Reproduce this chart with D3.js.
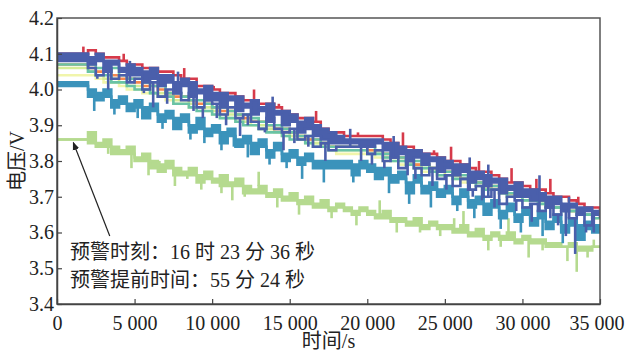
<!DOCTYPE html>
<html>
<head>
<meta charset="utf-8">
<script src="https://cdn.jsdelivr.net/npm/d3@7"></script>
<style>
  body { margin: 0; background: #fff; }
  text { font-family: "Liberation Serif", "Noto Sans CJK SC", serif; fill: #222; }
</style>
</head>
<body>
<svg id="chart" width="625" height="352"></svg>
<script>
// sample grid, one reading every 500 s
const times = d3.range(0, 35001, 500);

const xTicks = [0, 5000, 10000, 15000, 20000, 25000, 30000, 35000];
const yTicks = [3.4, 3.5, 3.6, 3.7, 3.8, 3.9, 4.0, 4.1, 4.2];

// cell voltages (V)
const redCell = [4.10,4.10,4.10,4.10,4.11,4.10,4.09,4.09,4.08,4.07,
  4.07,4.06,4.06,4.05,4.05,4.04,4.03,4.03,4.01,4.01,
  4.00,3.99,3.99,3.98,3.97,3.97,3.96,3.96,3.95,3.94,
  3.93,3.92,3.92,3.91,3.89,3.88,3.88,3.87,3.87,3.87,
  3.87,3.87,3.86,3.85,3.84,3.84,3.83,3.82,3.82,3.81,
  3.80,3.80,3.79,3.78,3.77,3.77,3.76,3.75,3.74,3.74,
  3.73,3.72,3.72,3.71,3.70,3.70,3.69,3.68,3.67,3.67,3.66];
const blueA = [4.10,4.10,4.10,4.10,4.09,4.10,4.08,4.08,4.06,4.07,
  4.06,4.05,4.06,4.04,4.04,4.02,4.03,4.02,4.00,4.01,
  3.99,3.99,3.98,3.98,3.96,3.97,3.95,3.96,3.94,3.94,
  3.93,3.91,3.92,3.90,3.89,3.88,3.87,3.86,3.86,3.86,
  3.86,3.86,3.85,3.85,3.84,3.83,3.83,3.82,3.81,3.81,
  3.80,3.79,3.79,3.77,3.77,3.76,3.75,3.75,3.73,3.74,
  3.72,3.72,3.71,3.70,3.70,3.68,3.68,3.67,3.67,3.66,3.66];
const blueB = [4.08,4.08,4.08,4.08,4.07,4.08,4.05,4.07,4.05,4.04,
  4.04,4.02,4.03,4.01,4.02,3.99,4.01,3.98,3.99,3.97,
  3.97,3.95,3.97,3.94,3.95,3.93,3.94,3.91,3.93,3.90,
  3.91,3.88,3.89,3.87,3.86,3.85,3.85,3.85,3.85,3.84,
  3.84,3.85,3.83,3.81,3.82,3.80,3.81,3.79,3.80,3.77,
  3.78,3.76,3.77,3.74,3.75,3.73,3.74,3.71,3.72,3.70,
  3.70,3.69,3.69,3.67,3.68,3.66,3.67,3.65,3.66,3.65,3.65];
const blueC = [4.10,4.10,4.10,4.10,4.06,4.04,4.06,4.03,4.04,4.02,
  4.03,4.00,4.02,3.98,4.00,3.99,3.97,3.99,3.95,3.97,
  3.96,3.93,3.95,3.92,3.93,3.91,3.89,3.92,3.89,3.88,
  3.89,3.86,3.87,3.84,3.85,3.83,3.84,3.84,3.84,3.84,
  3.82,3.83,3.80,3.81,3.78,3.80,3.78,3.76,3.78,3.75,
  3.76,3.73,3.75,3.72,3.73,3.70,3.72,3.68,3.70,3.69,
  3.67,3.68,3.66,3.67,3.65,3.66,3.64,3.65,3.62,3.65,3.64];
const mintCell = [4.09,4.09,4.09,4.09,4.07,4.06,4.05,4.06,4.04,4.03,
  4.03,4.02,4.01,4.01,3.99,3.99,3.98,3.97,3.97,3.96,
  3.95,3.95,3.94,3.93,3.93,3.92,3.91,3.90,3.90,3.89,
  3.88,3.87,3.87,3.86,3.85,3.84,3.84,3.84,3.84,3.84,
  3.84,3.83,3.82,3.82,3.81,3.80,3.80,3.79,3.78,3.78,
  3.77,3.76,3.76,3.75,3.74,3.73,3.73,3.72,3.71,3.71,
  3.70,3.69,3.69,3.68,3.67,3.67,3.66,3.66,3.65,3.65,3.65];
const mintCell2 = [4.07,4.07,4.07,4.07,4.05,4.04,4.04,4.02,4.02,4.01,
  4.00,4.00,3.99,3.98,3.98,3.96,3.96,3.95,3.94,3.94,
  3.93,3.92,3.92,3.91,3.90,3.90,3.89,3.88,3.88,3.87,
  3.86,3.86,3.85,3.84,3.84,3.83,3.83,3.83,3.83,3.83,
  3.82,3.82,3.81,3.80,3.80,3.79,3.78,3.78,3.77,3.76,
  3.76,3.75,3.75,3.74,3.73,3.72,3.72,3.71,3.70,3.70,
  3.69,3.69,3.68,3.67,3.67,3.66,3.66,3.65,3.65,3.64,3.64];
const orangeCell = [4.07,4.07,4.07,4.07,4.06,4.05,4.05,4.04,4.03,4.03,
  4.02,4.01,4.01,4.00,3.99,3.98,3.98,3.97,3.96,3.96,
  3.95,3.94,3.94,3.93,3.92,3.91,3.91,3.90,3.89,3.89,
  3.88,3.87,3.86,3.86,3.85,3.84,3.84,3.84,3.84,3.84,
  3.83,3.83,3.82,3.81,3.81,3.80,3.79,3.79,3.78,3.77,
  3.77,3.76,3.75,3.75,3.74,3.73,3.73,3.72,3.71,3.71,
  3.70,3.69,3.69,3.68,3.67,3.67,3.66,3.66,3.65,3.65,3.65];
const limeCell = [4.06,4.06,4.06,4.06,4.05,4.04,4.03,4.03,4.02,4.01,
  4.01,4.00,3.99,3.99,3.98,3.97,3.97,3.96,3.95,3.95,
  3.94,3.93,3.93,3.92,3.91,3.91,3.90,3.89,3.89,3.88,
  3.87,3.87,3.86,3.85,3.85,3.84,3.83,3.83,3.83,3.83,
  3.83,3.82,3.81,3.81,3.80,3.80,3.79,3.78,3.78,3.77,
  3.76,3.76,3.75,3.74,3.74,3.73,3.72,3.72,3.71,3.70,
  3.70,3.69,3.69,3.68,3.67,3.67,3.66,3.66,3.65,3.65,3.65];
const yellowCell = [4.04,4.04,4.04,4.04,4.04,4.03,4.02,4.02,4.01,4.00,
  4.00,3.99,3.99,3.98,3.97,3.96,3.96,3.95,3.95,3.94,
  3.93,3.93,3.92,3.91,3.91,3.90,3.89,3.89,3.88,3.87,
  3.87,3.86,3.85,3.85,3.84,3.83,3.82,3.82,3.82,3.82,
  3.82,3.81,3.80,3.80,3.79,3.79,3.78,3.77,3.77,3.76,
  3.76,3.75,3.74,3.74,3.73,3.72,3.72,3.71,3.70,3.70,
  3.69,3.69,3.68,3.67,3.67,3.66,3.66,3.65,3.65,3.64,3.64];
const tealA = [4.02,4.02,4.02,4.02,4.00,3.99,4.00,3.97,3.98,3.96,
  3.97,3.95,3.96,3.93,3.94,3.92,3.93,3.90,3.92,3.89,
  3.90,3.88,3.89,3.86,3.87,3.85,3.86,3.83,3.85,3.82,
  3.83,3.81,3.82,3.80,3.80,3.80,3.80,3.80,3.79,3.80,
  3.79,3.78,3.78,3.76,3.77,3.74,3.76,3.73,3.74,3.72,
  3.73,3.70,3.72,3.69,3.70,3.68,3.69,3.66,3.68,3.65,
  3.67,3.64,3.66,3.63,3.65,3.62,3.64,3.62,3.63,3.62,3.62];
const tealB = [4.01,4.01,4.01,4.01,3.98,3.97,3.98,3.95,3.96,3.94,
  3.95,3.92,3.94,3.91,3.92,3.89,3.91,3.88,3.89,3.87,
  3.88,3.85,3.87,3.84,3.85,3.82,3.84,3.81,3.83,3.80,
  3.81,3.79,3.80,3.78,3.78,3.78,3.78,3.78,3.76,3.78,
  3.77,3.75,3.76,3.74,3.75,3.71,3.74,3.71,3.72,3.70,
  3.71,3.68,3.70,3.67,3.68,3.65,3.67,3.64,3.66,3.63,
  3.65,3.62,3.64,3.61,3.63,3.60,3.62,3.58,3.61,3.60,3.60];
const faultCell = [3.86,3.86,3.86,3.86,3.88,3.85,3.86,3.84,3.83,3.84,
  3.81,3.82,3.80,3.79,3.80,3.78,3.77,3.78,3.76,3.77,
  3.75,3.76,3.74,3.75,3.73,3.72,3.73,3.71,3.72,3.70,
  3.71,3.69,3.70,3.68,3.69,3.67,3.68,3.67,3.66,3.67,
  3.66,3.65,3.66,3.64,3.64,3.63,3.64,3.62,3.63,3.62,
  3.62,3.61,3.62,3.60,3.61,3.59,3.60,3.59,3.60,3.58,
  3.59,3.58,3.58,3.57,3.57,3.56,3.57,3.56,3.56,3.56,3.56];
// lower edge of the fault cell's ripple
const faultLow = [3.86,3.86,3.86,3.86,3.85,3.84,3.84,3.82,3.82,3.82,
  3.80,3.80,3.78,3.77,3.78,3.76,3.76,3.76,3.74,3.75,
  3.74,3.73,3.73,3.73,3.71,3.71,3.71,3.70,3.70,3.69,
  3.69,3.68,3.68,3.67,3.67,3.66,3.67,3.66,3.65,3.66,
  3.65,3.64,3.64,3.63,3.63,3.62,3.62,3.61,3.62,3.61,
  3.61,3.60,3.60,3.59,3.59,3.58,3.59,3.58,3.58,3.57,
  3.58,3.57,3.57,3.56,3.56,3.56,3.56,3.55,3.55,3.56,3.56];

// short one-sample excursions [time s, voltage V]
const redSpikes = [[1700,4.12],[2900,4.10],[4300,4.10],[6700,4.05],[8200,4.06],[10100,4.01],[12700,4.00],
  [14300,3.96],[16700,3.94],[19400,3.88],[22300,3.88],[24300,3.83],[25400,3.84],[27200,3.80],
  [29300,3.78],[30900,3.75],[31800,3.75],[33600,3.70]];
const blueSpikes = [[2600,4.03],[3300,4.00],[4700,4.08],[5600,3.99],[6200,3.95],[7100,3.96],[7800,4.05],
  [8800,3.94],[9400,3.92],[10300,3.92],[10900,3.90],[11800,3.87],[12300,3.90],[13400,3.88],[13900,3.98],
  [14600,3.83],[15300,3.85],[16200,3.84],[17300,3.80],[18900,3.89],[19600,3.80],[20300,3.79],
  [21100,3.78],[21700,3.87],[22600,3.76],[23100,3.75],[24200,3.73],[25100,3.72],[26600,3.81],
  [26800,3.70],[27400,3.69],[27800,3.79],[28200,3.67],[29600,3.66],[30600,3.63],[31100,3.76],
  [31800,3.64],[32300,3.62],[32800,3.59],[33000,3.70],[33400,3.54],[34100,3.60],[34600,3.60]];
const tealSpikes = [[2400,3.94],[3700,3.93],[5200,3.92],[6800,3.89],[8600,3.86],[9500,3.85],[10600,3.83],
  [11400,3.84],[12300,3.81],[13700,3.79],[14800,3.78],[15800,3.75],[17200,3.74],[19100,3.74],
  [21400,3.71],[22700,3.68],[24100,3.67],[25800,3.66],[26900,3.64],[28600,3.61],[29900,3.60],
  [31300,3.59],[32600,3.57],[33700,3.58]];
const faultSpikes = [[2200,3.88],[3300,3.82],[4800,3.78],[5900,3.76],[6600,3.80],[7600,3.73],[8400,3.75],
  [9300,3.72],[10600,3.71],[11300,3.69],[12100,3.70],[13000,3.77],[14200,3.67],[15600,3.65],
  [16400,3.70],[17700,3.64],[19300,3.62],[20800,3.69],[21900,3.60],[23400,3.60],[24700,3.59],
  [25600,3.64],[26200,3.66],[27800,3.55],[28600,3.56],[29100,3.64],[30400,3.53],[31300,3.55],
  [32900,3.52],[33500,3.49],[34200,3.53],[34600,3.58]];

const margin = {top: 18, right: 25, bottom: 48, left: 57};
const width = 625 - margin.left - margin.right;
const height = 352 - margin.top - margin.bottom;

const svg = d3.select("#chart");
const g = svg.append("g").attr("transform", "translate(" + margin.left + "," + margin.top + ")");

const x = d3.scaleLinear().domain([0, 35000]).range([0, width]);
const y = d3.scaleLinear().domain([3.4, 4.2]).range([height, 0]);

g.append("clipPath").attr("id", "clip")
  .append("rect").attr("width", width).attr("height", height);

const line = d3.line()
  .x((d, i) => x(times[i]))
  .y(d => y(d))
  .curve(d3.curveStepAfter);

// band between two readings of the same colour group
function band(lo, hi) {
  return d3.area()
    .x((d, i) => x(times[i]))
    .y0((d, i) => y(lo[i]))
    .y1((d, i) => y(hi[i]))
    .curve(d3.curveStepAfter)(times);
}

const plot = g.append("g").attr("clip-path", "url(#clip)");
const lw = 2.6;

function drawLine(vals, color) {
  plot.append("path").attr("d", line(vals))
    .attr("fill", "none").attr("stroke", color).attr("stroke-width", lw);
}
function drawBand(lo, hi, color) {
  plot.append("path").attr("d", band(lo, hi))
    .attr("fill", color).attr("stroke", "none");
  drawLine(lo, color);
  drawLine(hi, color);
}
function drawSpikes(vals, spikes, color) {
  plot.selectAll(null)
    .data(spikes)
    .enter().append("line")
    .attr("x1", d => x(d[0])).attr("x2", d => x(d[0]))
    .attr("y1", d => y(vals[Math.floor(d[0] / 500)]))
    .attr("y2", d => y(d[1]))
    .attr("stroke", color)
    .attr("stroke-width", lw);
}

// fault cell
drawBand(faultLow, faultCell, "#b5da8f");
drawSpikes(faultCell, faultSpikes, "#b5da8f");

// lower teal group
drawBand(tealB, tealA, "#3b93bb");
drawSpikes(tealB, tealSpikes, "#3b93bb");

drawLine(yellowCell, "#f1f5ab");
drawLine(limeCell, "#d5ec97");
drawLine(orangeCell, "#f6884f");
drawLine(mintCell2, "#69c3a5");
drawLine(mintCell, "#69c3a5");

drawLine(redCell, "#d63a4a");
drawSpikes(redCell, redSpikes, "#d63a4a");

// upper blue group
drawBand(blueB, blueA, "#4a5fab");
drawLine(blueC, "#4a5fab");
drawSpikes(blueC, blueSpikes, "#4a5fab");

// frame
g.append("rect")
  .attr("width", width).attr("height", height)
  .attr("fill", "none").attr("stroke", "#555").attr("stroke-width", 1.5);

const xAxis = g.append("g")
  .attr("transform", "translate(0," + height + ")")
  .call(d3.axisBottom(x).tickValues(xTicks).tickSizeInner(-5).tickSizeOuter(0)
    .tickFormat(d => d === 0 ? "0" : d3.format(",")(d).replace(",", " ")));
xAxis.select(".domain").attr("stroke", "#444").attr("stroke-width", 1.5);
xAxis.selectAll(".tick line").attr("stroke", "#444").attr("stroke-width", 1.2);
xAxis.selectAll("text").attr("dy", 0).attr("y", 26).style("font-size", "20px").attr("fill", "#222");
xAxis.selectAll("text").filter(d => d === 35000).attr("text-anchor", "end").attr("x", 24);

const yAxis = g.append("g")
  .call(d3.axisLeft(y).tickValues(yTicks).tickSizeInner(-5).tickSizeOuter(0).tickFormat(d3.format(".1f")));
yAxis.select(".domain").attr("stroke", "#444").attr("stroke-width", 1.5);
yAxis.selectAll(".tick line").attr("stroke", "#444").attr("stroke-width", 1.2);
yAxis.selectAll("text").attr("x", -3).style("font-size", "20px").attr("fill", "#222");

// axis titles
svg.append("text")
  .attr("transform", "translate(24," + (margin.top + height / 2) + ") rotate(-90)")
  .attr("text-anchor", "middle")
  .style("font-size", "20px")
  .text("电压/V");
svg.append("text")
  .attr("x", margin.left + width / 2).attr("y", 348)
  .attr("text-anchor", "middle")
  .style("font-size", "20px")
  .text("时间/s");

// warning annotation
g.append("defs").append("marker")
  .attr("id", "arrow").attr("viewBox", "0 0 10 10")
  .attr("refX", 9).attr("refY", 5)
  .attr("markerWidth", 7).attr("markerHeight", 7)
  .attr("orient", "auto")
  .append("path").attr("d", "M0,1 L10,5 L0,9 Z").attr("fill", "#222");

g.append("line")
  .attr("x1", x(3400)).attr("y1", y(3.59))
  .attr("x2", x(1050)).attr("y2", y(3.852))
  .attr("stroke", "#222").attr("stroke-width", 1.2)
  .attr("marker-end", "url(#arrow)");

g.append("text").attr("x", 13).attr("y", 241)
  .style("font-size", "20px")
  .text("预警时刻：16 时 23 分 36 秒");
g.append("text").attr("x", 13).attr("y", 269)
  .style("font-size", "20px")
  .text("预警提前时间：55 分 24 秒");
</script>
</body>
</html>
